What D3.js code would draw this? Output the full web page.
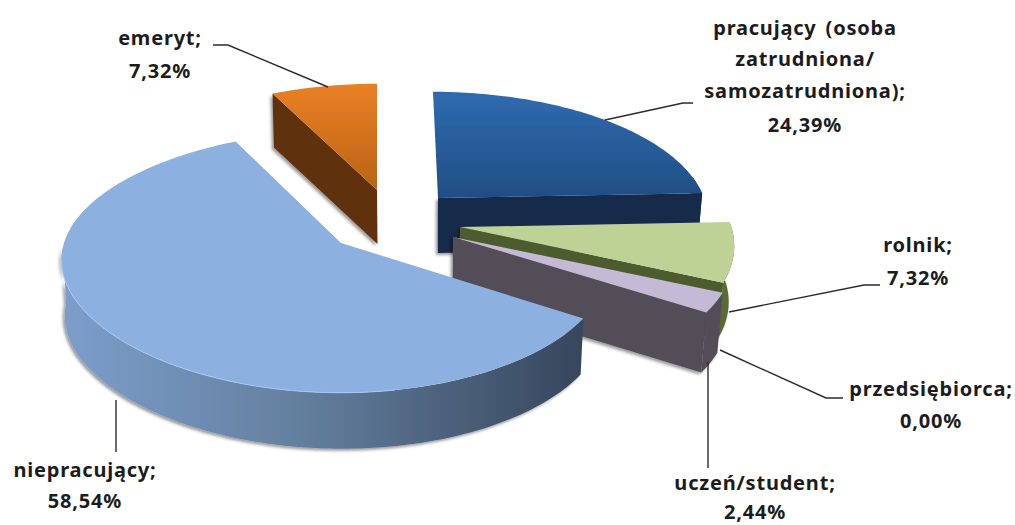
<!DOCTYPE html>
<html><head><meta charset="utf-8">
<script src="https://cdnjs.cloudflare.com/ajax/libs/d3/7.8.5/d3.min.js"></script>
<style>html,body{margin:0;padding:0;background:#fff}svg{display:block}text{font-family:"Noto Sans",sans-serif;font-weight:bold;font-size:20px;letter-spacing:.8px;word-spacing:3px;fill:#1c1c1c;text-anchor:middle}</style>
</head><body><svg id="c" width="1015" height="525"></svg>
<script>
const categories = ["pracujący (osoba zatrudniona/ samozatrudniona)","rolnik","przedsiębiorca","uczeń/student","niepracujący","emeryt"];
const values = [24.39,7.32,0.00,2.44,58.54,7.32];
const labelLines = [["pracujący (osoba","zatrudniona/","samozatrudniona);"],["rolnik;"],["przedsiębiorca;"],["uczeń/student;"],["niepracujący;"],["emeryt;"]];

// layout (not data): slice apex, per-slice scale, depth, colours, label and leader placement
const layout = [
 {apex:[438,198],sx:1.0,sy:.95,skew:5,bulge:0,depth:55,top:"gBlue",rim:"#152a4a",rad:"#152a4a",label:[805,[35,66,98,132]],leader:[[693,103],[683,103],[605,120]]},
 {apex:[460,227],sx:1.02,sy:1,skew:0,bulge:0,depth:56,top:"#bdd294",rim:"#5a6b33",rad:"#4d5c2e",label:[918,[252,285]],leader:[[880,285],[864,285],[729,312]]},
 {apex:[453,237],sx:1.0,sy:1,skew:0,bulge:0,depth:0,top:"#888",rim:"#888",rad:"#888",label:[931,[396,428]],leader:[[843,398],[826,398],[720,350]]},
 {apex:[453,237],sx:1.045,sy:1,skew:0,bulge:0,depth:60,top:"#c4bad6",rim:"#534d59",rad:"#534d59",label:[755,[490,519]],leader:[[708,362],[708,468]]},
 {apex:[341,243],sx:1.0,sy:1,skew:0,bulge:11,depth:56,top:"#8cb1e0",rim:"url(#gWall)",rad:"#36465c",label:[85,[477,508]],leader:[[116,400],[116,452]]},
 {apex:[377,190],sx:1.0,sy:.95,skew:0,bulge:0,depth:54,top:"gOrange",rim:"#5f3009",rad:"#5f3009",label:[160,[45,78]],leader:[[213,45],[228,45],[328,87]]}
];
const drawOrder = [5,0,1,3,4,2];

const svg = d3.select("#c");
const defs = svg.append("defs");
function grad(id,x2,y2,stops){
  const g = defs.append("linearGradient").attr("id",id).attr("x1",0).attr("y1",0).attr("x2",x2).attr("y2",y2);
  stops.forEach(s=>g.append("stop").attr("offset",s[0]).attr("stop-color",s[1]));
}
grad("gBlue",0,1,[[0,"#2f6bb0"],[1,"#1f4e84"]]);
grad("gOrange",0,1,[[0,"#ea8025"],[1,"#b96316"]]);
grad("gWall",1,0,[[0,"#7c9ecb"],[.45,"#64809f"],[1,"#36465c"]]);
const sh = defs.append("filter").attr("id","shadow").attr("x","-10%").attr("y","-10%").attr("width","120%").attr("height","120%");
sh.append("feDropShadow").attr("dx",-2).attr("dy",2).attr("stdDeviation",1.6).attr("flood-color","#000").attr("flood-opacity",.4);
defs.append("filter").attr("id","soft").append("feGaussianBlur").attr("stdDeviation",.5);

const pie = d3.pie().sort(null).value(d=>d).startAngle(0).endAngle(2*Math.PI);
const arcs = pie(values);

// circle → perspective ellipse
const Sx = 266, Sy = 128, P = .145;
function proj(a,i,r=1){
  const L = layout[i], u = r*Math.sin(a), v = -r*Math.cos(a), w = 1-P*v;
  const extra = L.skew*Math.min(v,0) - L.bulge*Math.pow(Math.max(-u,0),3);
  return [L.apex[0]+L.sx*Sx*u/w+extra, L.apex[1]+L.sy*Sy*v/w];
}
const line = d3.line();
const samples = (a,b)=>{const n=Math.max(2,Math.ceil((b-a)/.02));return d3.range(n+1).map(k=>a+(b-a)*k/n);};
const down = (p,d)=>[p[0]+(430-p[0])*(p[0]>430?.018:.009),p[1]+d];
const rad = d=>d*Math.PI/180;

const g = svg.append("g");
drawOrder.forEach(i=>{
  const A = arcs[i], L = layout[i], a0=A.startAngle, a1=A.endAngle;
  if (values[i] === 0) return;
  const sl = g.append("g").attr("filter","url(#soft)");
  const walls = sl.append("g").attr("filter","url(#shadow)");
  // radial walls that face the viewer
  const radial = a=>{
    const rim=proj(a,i), c=L.apex;
    walls.append("path").attr("fill",L.rad).attr("d",line([c,rim,down(rim,L.depth),down(c,L.depth)])+"Z");
  };
  if (Math.sin(a0)<-.01) radial(a0);
  if (Math.sin(a1)>.01 ) radial(a1);
  // rim wall on the near side
  const lo=Math.max(a0,rad(80)), hi=Math.min(a1,rad(268));
  if (hi>lo){
    const pts=samples(lo,hi).map(a=>proj(a,i));
    walls.append("path").attr("fill",L.rim).attr("d",line(pts.concat(pts.slice().reverse().map(p=>down(p,L.depth))))+"Z");
  }
  // top face
  const outline=[L.apex].concat(samples(a0,a1).map(a=>proj(a,i)));
  sl.append("path").attr("fill",L.top.startsWith("g")?`url(#${L.top})`:L.top).attr("d",line(outline)+"Z");
  if (i===4){
    const pts=samples(rad(170),rad(262)).map(a=>proj(a,i));
    sl.append("path").attr("fill","none").attr("stroke","#a5c8f3").attr("stroke-width",1).attr("d",line(pts));
  }
});

// leaders and labels
const fmt = v=>d3.format(".2f")(v).replace(".",",")+"%";
layout.forEach((L,i)=>{
  svg.append("path").attr("fill","none").attr("stroke","#2b2b2b").attr("stroke-width",1.4).attr("d",line(L.leader));
  const lines = labelLines[i].concat([fmt(values[i])]);
  lines.forEach((t,k)=>svg.append("text").attr("x",L.label[0]).attr("y",L.label[1][k]).text(t));
});
</script></body></html>
